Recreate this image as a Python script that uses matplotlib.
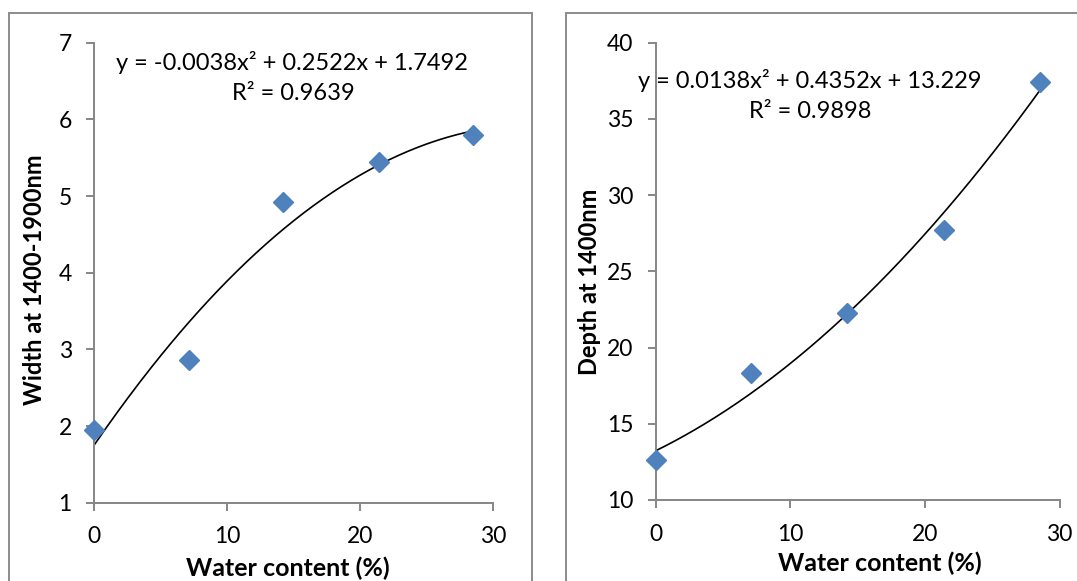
import numpy as np
import matplotlib
matplotlib.use("Agg")
import matplotlib.pyplot as plt
from matplotlib.patches import Rectangle

# data
water = [0, 7.1, 14.2, 21.4, 28.5]
width_vals = [1.95, 2.86, 4.92, 5.45, 5.80]
depth_vals = [12.64, 18.3, 22.26, 27.7, 37.45]

# trendline coefficients (from the equations shown)
width_coef = [-0.0038, 0.2522, 1.7492]
depth_coef = [0.0138, 0.4352, 13.229]

W, H = 1077, 581
plt.rcParams['font.family'] = ['Lato', 'DejaVu Sans']

fig = plt.figure(figsize=(W / 100, H / 100), dpi=100)


def fx(px):
    return px / W


def fy(py):
    return 1 - py / H


def box(x0, y0, x1, y1):
    # axes rectangle from pixel corners (top-left origin)
    return [fx(x0), fy(y1), (x1 - x0) / W, (y1 - y0) / H]


# panel frames (excel chart areas)
fig.add_artist(Rectangle((fx(9), fy(600)), (531.5 - 9) / W, (600 - 13) / H,
                         transform=fig.transFigure, fill=False, ec='#8c8c8c', lw=1.4))
fig.add_artist(Rectangle((fx(566), fy(600)), (1100 - 566) / W, (600 - 13) / H,
                         transform=fig.transFigure, fill=False, ec='#8c8c8c', lw=1.4))

grey = '#868686'


def style(ax):
    for s in ['top', 'right']:
        ax.spines[s].set_visible(False)
    for s in ['left', 'bottom']:
        ax.spines[s].set_color(grey)
        ax.spines[s].set_linewidth(1.4)
    ax.tick_params(direction='out', length=6, width=1.4, color=grey, labelsize=16.5)
    ax.tick_params(axis='x', pad=11)
    ax.tick_params(axis='y', pad=10)


xs = np.linspace(0, water[-1], 200)

ax1 = fig.add_axes(box(94, 42.7, 493.3, 502.7))
ax1.plot(xs, np.polyval(width_coef, xs), color='black', lw=1.2)
ax1.plot(water, width_vals, 'D', color='#4F81BD', ms=10.5, mec='#4F81BD', clip_on=False, zorder=3)
ax1.set_xlim(0, 30)
ax1.set_ylim(1, 7)
ax1.set_xticks([0, 10, 20, 30])
ax1.set_yticks(range(1, 8))
style(ax1)
ax1.set_xlabel('Water content (%)', fontsize=18, fontweight='bold')
ax1.set_ylabel('Width at 1400-1900nm', fontsize=17, fontweight='bold')
ax1.xaxis.set_label_coords(0.486, -0.118)
ax1.yaxis.set_label_coords(-0.12, 0.484)
fig.text(fx(292), fy(62), 'y = -0.0038x² + 0.2522x + 1.7492', ha='center', va='center', fontsize=17)
fig.text(fx(293), fy(93), 'R² = 0.9639', ha='center', va='center', fontsize=17)

ax2 = fig.add_axes(box(655.7, 42.7, 1059.7, 500))
ax2.plot(xs, np.polyval(depth_coef, xs), color='black', lw=1.2)
ax2.plot(water, depth_vals, 'D', color='#4F81BD', ms=10.5, mec='#4F81BD', clip_on=False, zorder=3)
ax2.set_xlim(0, 30)
ax2.set_ylim(10, 40)
ax2.set_xticks([0, 10, 20, 30])
ax2.set_yticks(range(10, 41, 5))
style(ax2)
ax2.set_xlabel('Water content (%)', fontsize=18, fontweight='bold')
ax2.set_ylabel('Depth at 1400nm', fontsize=17, fontweight='bold')
ax2.xaxis.set_label_coords(0.554, -0.112)
ax2.yaxis.set_label_coords(-0.135, 0.477)
fig.text(fx(810), fy(80), 'y = 0.0138x² + 0.4352x + 13.229', ha='center', va='center', fontsize=17)
fig.text(fx(810), fy(111), 'R² = 0.9898', ha='center', va='center', fontsize=17)

fig.savefig('out.png', dpi=100)
